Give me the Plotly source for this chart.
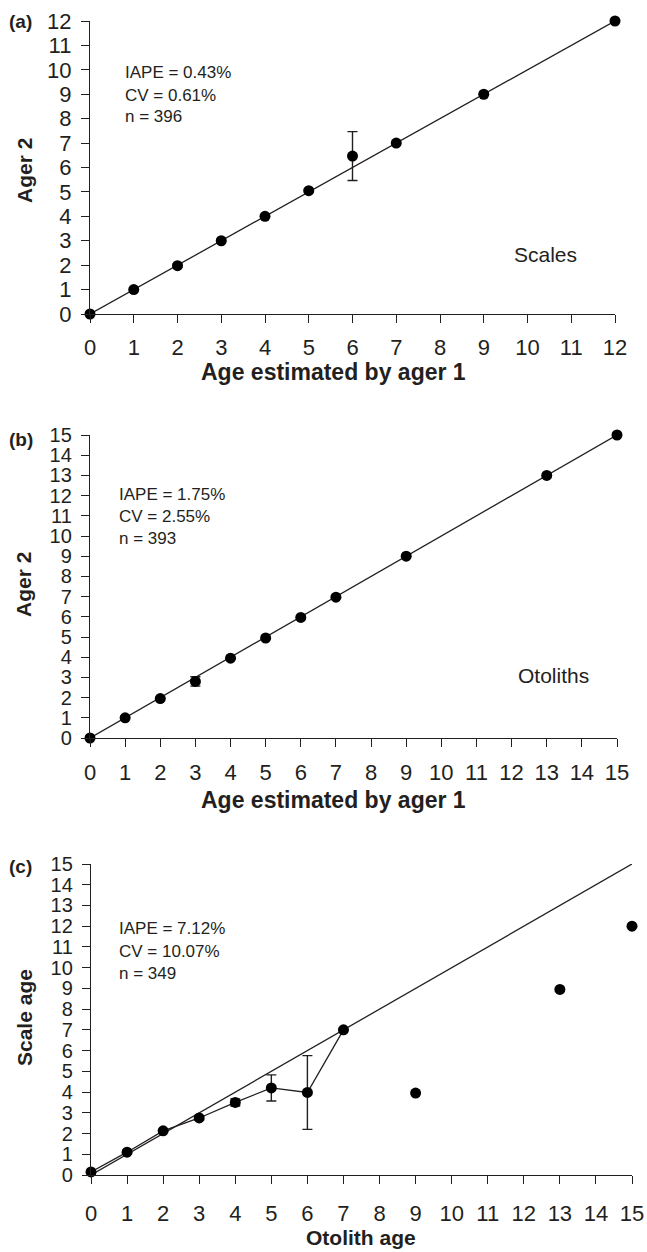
import plotly.graph_objects as go

FONT = "Liberation Sans, Arial, sans-serif"
INK = "#231f20"

# Panel (a): scales, ager 1 vs ager 2
a_x = [0, 1, 2, 3, 4, 5, 6, 7, 9, 12]
a_y = [0, 1, 1.98, 3, 4, 5.05, 6.47, 7, 9, 12]
a_err = [0, 0, 0.05, 0, 0, 0.05, 1.0, 0, 0, 0]

# Panel (b): otoliths, ager 1 vs ager 2
b_x = [0, 1, 2, 3, 4, 5, 6, 7, 9, 13, 15]
b_y = [0, 1, 1.95, 2.8, 3.95, 4.95, 5.97, 6.97, 9, 13, 15]
b_err = [0, 0, 0, 0.23, 0, 0, 0, 0, 0, 0, 0]

# Panel (c): otolith age vs scale age
c_x_line = [0, 1, 2, 3, 4, 5, 6, 7]
c_y_line = [0.15, 1.1, 2.13, 2.75, 3.5, 4.2, 3.98, 7.0]
c_err_line = [0.1, 0.08, 0.05, 0.1, 0.17, 0.63, 1.78, 0]
c_x_pts = [9, 13, 15]
c_y_pts = [3.95, 8.95, 12]

a_ticks = list(range(0, 13))
b_ticks = list(range(0, 16))
c_ticks = list(range(0, 16))

stats_a = ["IAPE = 0.43%", "CV = 0.61%", "n = 396"]
stats_b = ["IAPE = 1.75%", "CV = 2.55%", "n = 393"]
stats_c = ["IAPE = 7.12%", "CV = 10.07%", "n = 349"]

W, H = 647, 1252


def px_x(p):
    return p / W


def px_y(p):
    return 1 - p / H


fig = go.Figure()

line_style = dict(color=INK, width=1.3)
marker_style = dict(color="black", size=11)
err_style = dict(color=INK, thickness=1.4, width=5)

# (a)
fig.add_trace(go.Scatter(x=[0, 12], y=[0, 12], mode="lines", line=line_style,
                         xaxis="x", yaxis="y", hoverinfo="skip"))
fig.add_trace(go.Scatter(x=a_x, y=a_y, mode="markers", marker=marker_style,
                         error_y=dict(type="data", array=a_err, **err_style),
                         xaxis="x", yaxis="y", cliponaxis=False))
# (b)
fig.add_trace(go.Scatter(x=[0, 15], y=[0, 15], mode="lines", line=line_style,
                         xaxis="x2", yaxis="y2", hoverinfo="skip"))
fig.add_trace(go.Scatter(x=b_x, y=b_y, mode="markers", marker=marker_style,
                         error_y=dict(type="data", array=b_err, **err_style),
                         xaxis="x2", yaxis="y2", cliponaxis=False))
# (c)
fig.add_trace(go.Scatter(x=[0, 15], y=[0, 15], mode="lines", line=line_style,
                         xaxis="x3", yaxis="y3", hoverinfo="skip"))
fig.add_trace(go.Scatter(x=c_x_line, y=c_y_line, mode="lines+markers",
                         line=line_style, marker=marker_style,
                         error_y=dict(type="data", array=c_err_line, **err_style),
                         xaxis="x3", yaxis="y3", cliponaxis=False))
fig.add_trace(go.Scatter(x=c_x_pts, y=c_y_pts, mode="markers", marker=marker_style,
                         xaxis="x3", yaxis="y3", cliponaxis=False))

axis_common = dict(showline=True, linecolor=INK, linewidth=1.3, ticks="outside",
                   ticklen=8, tickwidth=1.3, tickcolor=INK, showgrid=False,
                   zeroline=False, tickmode="array", automargin=False)

fig.update_layout(
    width=W, height=H, margin=dict(l=0, r=0, t=0, b=0, autoexpand=False),
    paper_bgcolor="white", plot_bgcolor="white", showlegend=False,
    font=dict(family=FONT, color=INK),
    xaxis=dict(domain=[px_x(90), px_x(615)], range=[0, 12], anchor="y",
               tickvals=a_ticks, tickfont=dict(size=22), ticklabelstandoff=5,
               **axis_common),
    yaxis=dict(domain=[px_y(314), px_y(21)], range=[0, 12], anchor="x",
               tickvals=a_ticks, tickfont=dict(size=22), ticklabelstandoff=5,
               **axis_common),
    xaxis2=dict(domain=[px_x(90), px_x(617)], range=[0, 15], anchor="y2",
                tickvals=b_ticks, tickfont=dict(size=22), ticklabelstandoff=6,
                **axis_common),
    yaxis2=dict(domain=[px_y(738), px_y(435)], range=[0, 15], anchor="x2",
                tickvals=b_ticks, tickfont=dict(size=20), ticklabelstandoff=5,
                **axis_common),
    xaxis3=dict(domain=[px_x(91), px_x(632)], range=[0, 15], anchor="y3",
                tickvals=c_ticks, tickfont=dict(size=22), ticklabelstandoff=10,
                **axis_common),
    yaxis3=dict(domain=[px_y(1175), px_y(864)], range=[0, 15], anchor="x3",
                tickvals=c_ticks, tickfont=dict(size=20), ticklabelstandoff=5,
                **axis_common),
)

ann = []


def text(x, y, s, size, bold=False, angle=0, xanchor="center"):
    ann.append(dict(x=px_x(x), y=px_y(y), xref="paper", yref="paper",
                    text=f"<b>{s}</b>" if bold else s, showarrow=False,
                    font=dict(family=FONT, size=size, color=INK),
                    textangle=angle, xanchor=xanchor, yanchor="middle",
                    borderpad=0))


# panel labels
text(8, 22, "(a)", 19, bold=True, xanchor="left")
text(8, 439, "(b)", 19, bold=True, xanchor="left")
text(8, 866, "(c)", 19, bold=True, xanchor="left")

# axis titles
text(333, 372, "Age estimated by ager 1", 23, bold=True)
text(333, 800, "Age estimated by ager 1", 23, bold=True)
text(361, 1237, "Otolith age", 21, bold=True)
text(24, 171, "Ager 2", 21, bold=True, angle=-90)
text(24, 585, "Ager 2", 21, bold=True, angle=-90)
text(24, 1018, "Scale age", 21, bold=True, angle=-90)

# stats
for i, s in enumerate(stats_a):
    text(124, 73 + 22 * i, s, 17, xanchor="left")
for i, s in enumerate(stats_b):
    text(118, 495 + 21.5 * i, s, 17, xanchor="left")
for i, s in enumerate(stats_c):
    text(118, 928 + 23 * i, s, 17, xanchor="left")

text(545, 254, "Scales", 21)
text(553, 675, "Otoliths", 21)

fig.update_layout(annotations=ann)
fig.write_html("out.html", config={"displayModeBar": False},
               post_script="document.body.style.margin='0';"
                           "document.body.style.overflow='hidden';")
